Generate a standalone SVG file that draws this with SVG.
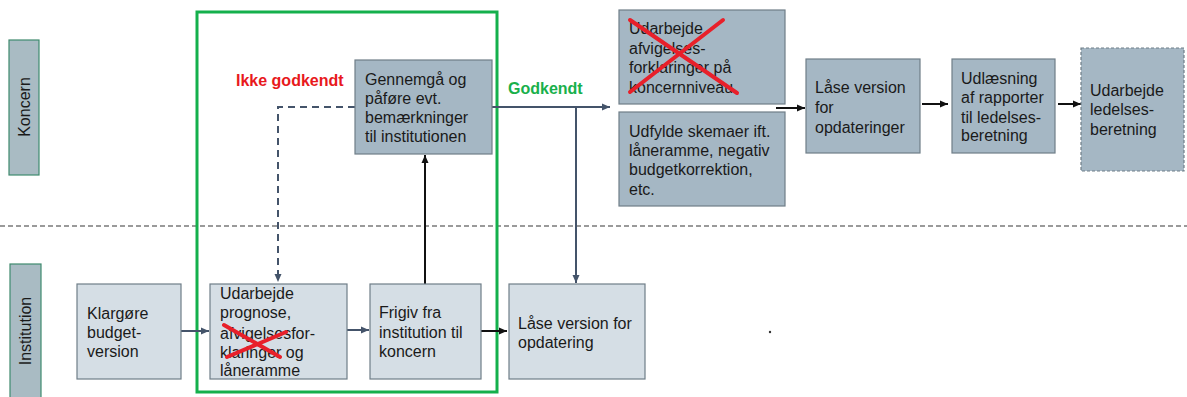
<svg xmlns="http://www.w3.org/2000/svg" width="1187" height="397" viewBox="0 0 1187 397">
<defs>
<style>
.t{font-family:"Liberation Sans",Arial,sans-serif;font-size:16px;fill:#1a1a1a}
.b{font-family:"Liberation Sans",Arial,sans-serif;font-size:16px;font-weight:bold}
.top{fill:#A5B7C4;stroke:#6F7E88;stroke-width:1.2}
.bot{fill:#D5DEE5;stroke:#6F7E88;stroke-width:1.2}
.lane{fill:#A9BBC3;stroke:#3F8A6E;stroke-width:1.2}
.slate{stroke:#44546A;stroke-width:2;fill:none}
.blk{stroke:#111;stroke-width:2;fill:none}
.x{stroke:#E8202A;stroke-width:4;stroke-linecap:round}
</style>
<marker id="as" markerUnits="userSpaceOnUse" markerWidth="10" markerHeight="10" refX="9" refY="5" orient="auto"><path d="M1,1.5 L9,5 L1,8.5 Z" fill="#44546A"/></marker>
<marker id="ab" markerUnits="userSpaceOnUse" markerWidth="10" markerHeight="10" refX="9" refY="5" orient="auto"><path d="M1,1.5 L9,5 L1,8.5 Z" fill="#111"/></marker>
</defs>
<rect width="1187" height="397" fill="#fff"/>

<line x1="0" y1="226" x2="1187" y2="226" stroke="#7a7a7a" stroke-width="1.5" stroke-dasharray="5,3"/>

<g id="lane-koncern"><rect class="lane" x="9" y="40" width="30" height="135"/>
<text class="t" transform="translate(30,107) rotate(-90)" text-anchor="middle">Koncern</text></g>
<g id="lane-institution"><rect class="lane" x="10" y="264" width="31" height="140"/>
<text class="t" transform="translate(31,331) rotate(-90)" text-anchor="middle">Institution</text></g>

<g id="green-frame"><rect x="197" y="12" width="300" height="380" fill="none" stroke="#14B04C" stroke-width="3"/></g>

<g id="connectors">
<path class="slate" d="M355,107 H278 V282" stroke-dasharray="7,5" marker-end="url(#as)"/>
<path class="slate" d="M492,107 H610" marker-end="url(#as)"/>
<path class="slate" d="M576,107 V283" marker-end="url(#as)"/>
<path class="blk" d="M776,108 H805" marker-end="url(#ab)"/>
<path class="blk" d="M922,104 H948" marker-end="url(#ab)"/>
<path class="blk" d="M1058,104 H1081" marker-end="url(#ab)"/>
<path class="slate" d="M181,331 H209" marker-end="url(#as)"/>
<path class="slate" d="M347,330 H369" marker-end="url(#as)"/>
<path class="blk" d="M425,284 V155" marker-end="url(#ab)"/>
<path class="blk" d="M479,331 H507" marker-end="url(#ab)"/>
</g>

<g id="label-ikke"><text class="b" x="236" y="86" fill="#E8191C">Ikke godkendt</text></g>
<g id="label-godkendt"><text class="b" x="508" y="94" fill="#19B04B">Godkendt</text></g>

<g id="n-gennemgaa"><rect class="top" x="355" y="60" width="137" height="94"/>
<text class="t" x="365" y="85">Gennemgå og</text>
<text class="t" x="365" y="104">påføre evt.</text>
<text class="t" x="365" y="123">bemærkninger</text>
<text class="t" x="365" y="142">til institutionen</text></g>

<g id="n-afvig"><rect class="top" x="619" y="10" width="166" height="94"/>
<text class="t" x="629" y="34">Udarbejde</text>
<text class="t" x="629" y="54">afvigelses-</text>
<text class="t" x="629" y="73">forklaringer på</text>
<text class="t" x="629" y="93">koncernniveau</text>
<line class="x" x1="630" y1="20" x2="737" y2="93"/>
<line class="x" x1="723" y1="20" x2="630" y2="92"/></g>

<g id="n-udfylde"><rect class="top" x="619" y="112" width="166" height="94"/>
<text class="t" x="629" y="137">Udfylde skemaer ift.</text>
<text class="t" x="629" y="156">låneramme, negativ</text>
<text class="t" x="629" y="175">budgetkorrektion,</text>
<text class="t" x="629" y="195">etc.</text></g>

<g id="n-laase-top"><rect class="top" x="806" y="59" width="114" height="94"/>
<text class="t" x="815" y="93">Låse version</text>
<text class="t" x="815" y="113">for</text>
<text class="t" x="815" y="133">opdateringer</text></g>

<g id="n-udlaesning"><rect class="top" x="952" y="59" width="103" height="94"/>
<text class="t" x="961" y="84">Udlæsning</text>
<text class="t" x="961" y="103">af rapporter</text>
<text class="t" x="961" y="123">til ledelses-</text>
<text class="t" x="961" y="141">beretning</text></g>

<g id="n-ledelse"><rect class="top" x="1081" y="48" width="103" height="123" stroke-dasharray="3,2"/>
<text class="t" x="1090" y="96">Udarbejde</text>
<text class="t" x="1090" y="115">ledelses-</text>
<text class="t" x="1090" y="135">beretning</text></g>

<g id="n-klargoere"><rect class="bot" x="77" y="284" width="104" height="95"/>
<text class="t" x="87" y="319">Klargøre</text>
<text class="t" x="87" y="338">budget-</text>
<text class="t" x="87" y="357">version</text></g>

<g id="n-prognose"><rect class="bot" x="210" y="284" width="137" height="95"/>
<text class="t" x="220" y="299">Udarbejde</text>
<text class="t" x="220" y="318">prognose,</text>
<text class="t" x="220" y="339">afvigelsesfor-</text>
<text class="t" x="220" y="358">klaringer og</text>
<text class="t" x="220" y="376">låneramme</text>
<line class="x" x1="224" y1="325" x2="280" y2="357"/>
<line class="x" x1="286" y1="332" x2="227" y2="357"/></g>

<g id="n-frigiv"><rect class="bot" x="370" y="284" width="111" height="95"/>
<text class="t" x="379" y="318">Frigiv fra</text>
<text class="t" x="379" y="338">institution til</text>
<text class="t" x="379" y="357">koncern</text></g>

<g id="n-laase-bot"><rect class="bot" x="509" y="284" width="136" height="95"/>
<text class="t" x="518" y="329">Låse version for</text>
<text class="t" x="518" y="348">opdatering</text></g>

<circle cx="770" cy="332" r="1.2" fill="#333"/>
</svg>
